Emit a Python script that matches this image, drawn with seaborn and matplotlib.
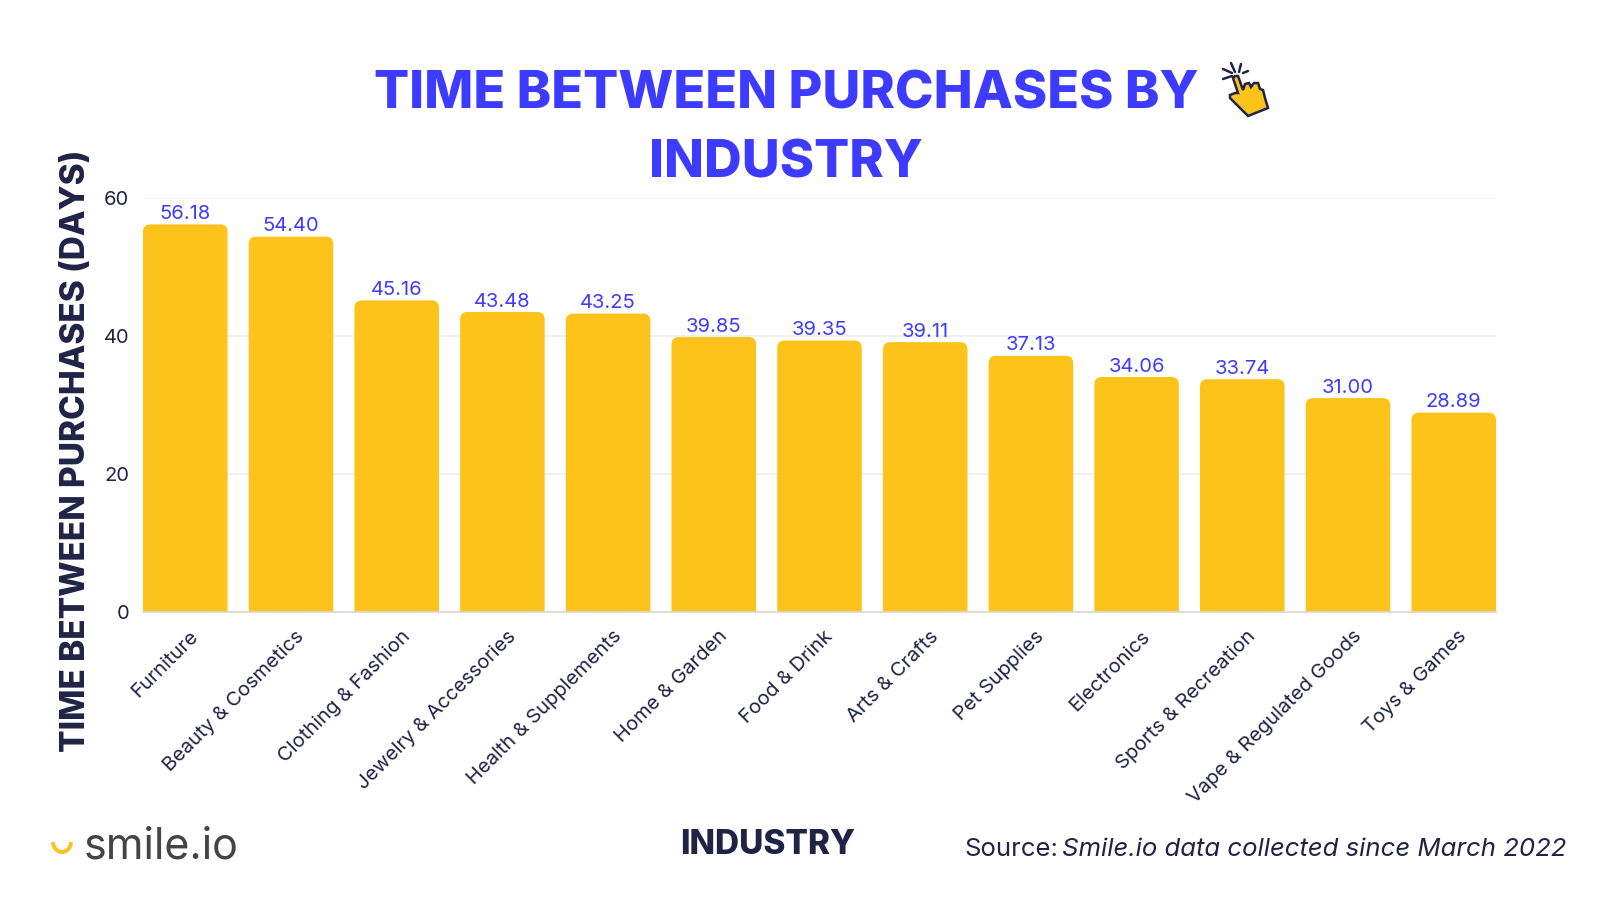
import numpy as np
import pandas as pd
import matplotlib
matplotlib.use('Agg')
from matplotlib import pyplot as plt
from matplotlib.patches import FancyBboxPatch, Polygon, Arc
from matplotlib.transforms import ScaledTranslation
import seaborn as sns

industries = ['Furniture', 'Beauty & Cosmetics', 'Clothing & Fashion', 'Jewelry & Accessories',
              'Health & Supplements', 'Home & Garden', 'Food & Drink', 'Arts & Crafts',
              'Pet Supplies', 'Electronics', 'Sports & Recreation', 'Vape & Regulated Goods',
              'Toys & Games']
days = [56.18, 54.40, 45.16, 43.48, 43.25, 39.85, 39.35, 39.11, 37.13, 34.06, 33.74, 31.00, 28.89]
y_ticks = [0, 20, 40, 60]

BLUE = '#3d3bff'
NAVY = '#1f2447'
YELLOW = '#fdc31a'
W, H = 1600, 900

sns.set_theme(style='white')
plt.rcParams['font.family'] = ['Inter', 'DejaVu Sans']

df = pd.DataFrame({'industry': industries, 'days': days})

fig = plt.figure(figsize=(16, 9), dpi=100, facecolor='white')
ax = fig.add_axes([143 / W, 1 - 612 / H, 1353 / W, (612 - 198) / H])
sns.barplot(data=df, x='industry', y='days', color=YELLOW, saturation=1, width=0.8, ax=ax, zorder=2)

ax.set_xlim(-0.4, 12.4)
ax.set_ylim(0, 60)
ax.set_yticks(y_ticks)
ax.yaxis.grid(True, color='#eeeeee', lw=1.2, zorder=0)
ax.set_axisbelow(True)
ax.set_xlabel('')
ax.set_ylabel('')
sns.despine(ax=ax, left=True)
ax.spines['bottom'].set_color('#d8d8d8')
ax.tick_params(axis='y', length=0, labelsize=14.5, labelcolor=NAVY, pad=10)
ax.tick_params(axis='x', length=0, labelsize=14.5, labelcolor=NAVY, pad=11)
plt.setp(ax.get_xticklabels(), rotation=45, ha='right', rotation_mode='anchor')
nudge = ScaledTranslation(3 / 72, 0, fig.dpi_scale_trans)
for lab in ax.get_xticklabels():
    lab.set_transform(lab.get_transform() + nudge)

# swap the square bars for ones with rounded tops
aspect = (60 / 414) / (12.8 / 1353)
for bar, val in zip(list(ax.patches), days):
    x, w = bar.get_x(), bar.get_width()
    r = 0.07
    box = FancyBboxPatch((x + r, -5), w - 2 * r, val + 5 - r * aspect,
                         boxstyle=f'round,pad={r},rounding_size={r}', mutation_aspect=aspect,
                         fc=YELLOW, ec='none', zorder=2)
    bar.set_visible(False)
    ax.add_patch(box)
    ax.text(x + w / 2, val + 0.2, f'{val:.2f}', ha='center', va='bottom',
            fontsize=14.5, color=BLUE, zorder=3)

# titles
fig.text(786 / W, 1 - 95 / H, 'TIME BETWEEN PURCHASES BY', ha='center', va='center',
         fontsize=37.5, fontweight='heavy', color=BLUE)
fig.text(786 / W, 1 - 164 / H, 'INDUSTRY', ha='center', va='center',
         fontsize=37.5, fontweight='heavy', color=BLUE)
fig.text(76 / W, 1 - 451 / H, 'TIME BETWEEN PURCHASES (DAYS)', ha='center', va='center',
         rotation=90, fontsize=24, fontweight='heavy', color=NAVY)
fig.text(768 / W, 1 - 845 / H, 'INDUSTRY', ha='center', va='center',
         fontsize=24, fontweight='heavy', color=NAVY)

# source line
fig.text(964 / W, 1 - 849 / H, 'Source:', ha='left', va='center', fontsize=18.5, color=NAVY)
fig.text(1062 / W, 1 - 849 / H, 'Smile.io data collected since March 2022', ha='left', va='center',
         fontsize=18.5, style='italic', color=NAVY)

# logo
logo = fig.add_axes([0, 0, 1, 1], facecolor='none')
logo.set_xlim(0, W)
logo.set_ylim(H, 0)
logo.axis('off')
logo.add_patch(Arc((62, 842), 18, 20, theta1=0, theta2=180, color=YELLOW, lw=2.8))
logo.text(84, 847, 'smile.io', ha='left', va='center', fontsize=31, color='#444444')

# pointer icon next to the title
hand = [(1233, 78), (1235, 76), (1238, 76), (1243, 90), (1245, 84), (1249, 83), (1251, 87),
        (1254, 83), (1258, 83), (1260, 89), (1263, 90), (1265, 98), (1268, 108),
        (1248, 116), (1242, 110), (1236, 104), (1230, 98), (1230, 95), (1235, 93), (1238, 93)]
logo.add_patch(Polygon(hand, closed=True, fc=YELLOW, ec=NAVY, lw=1.8, joinstyle='miter'))
for seg in [((1232, 73), (1223, 69)), ((1235, 72), (1231, 63)), ((1239, 72), (1241, 64)),
            ((1243, 73), (1248, 71)), ((1232, 76), (1223, 79))]:
    logo.plot(*zip(*seg), color=NAVY, lw=1.8)

fig.savefig('out.png', dpi=100)
